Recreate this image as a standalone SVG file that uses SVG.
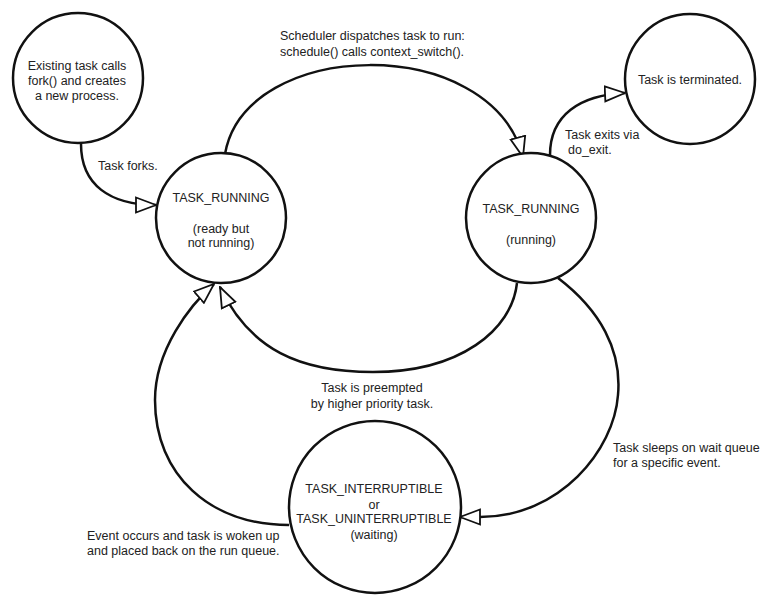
<svg xmlns="http://www.w3.org/2000/svg" width="766" height="599" viewBox="0 0 766 599">
<style>
.node{fill:#fff;stroke:#111;stroke-width:2.5}
.edge{fill:none;stroke:#111;stroke-width:2.5;marker-end:url(#arr)}
text{font-family:"Liberation Sans",Arial,sans-serif;font-size:12.5px;fill:#222}
.c{text-anchor:middle}
</style>
<defs>
<marker id="arr" viewBox="0 0 22 18" refX="21" refY="9" markerWidth="22" markerHeight="18" markerUnits="userSpaceOnUse" orient="auto">
<path d="M1,1.5 L21,9 L1,16.5 Z" fill="#fff" stroke="#111" stroke-width="1.8" stroke-linejoin="miter"/>
</marker>
</defs>
<rect width="766" height="599" fill="#fff"/>
<g id="connectors">
<path class="edge" d="M81,144 C81,185 110,205 156,205"/>
<path class="edge" d="M225,154 C245,38 490,32 523,157"/>
<path class="edge" d="M550,155 C550,115 580,95 625,93"/>
<path class="edge" d="M517,283 C512,330 460,372 373,372 C300,372 250,350 220,287"/>
<path class="edge" d="M558,278 C600,310 622,350 618,395 C614,450 560,517 480,517 L460,517"/>
<path class="edge" d="M289,525 C210,525 155,475 155,400 C155,350 190,305 214,284"/>
</g>
<g id="labels">
<text x="98" y="170">Task forks.</text>
<text x="280" y="40">Scheduler dispatches task to run:</text>
<text x="280" y="56">schedule() calls context_switch().</text>
<text x="565" y="139">Task exits via</text>
<text x="568" y="154">do_exit.</text>
<text class="c" x="372" y="392">Task is preempted</text>
<text class="c" x="372" y="408">by higher priority task.</text>
<text x="613" y="452">Task sleeps on wait queue</text>
<text x="613" y="467">for a specific event.</text>
<text x="87" y="540">Event occurs and task is woken up</text>
<text x="87" y="555">and placed back on the run queue.</text>
</g>
<g id="fork">
<circle class="node" cx="78" cy="78" r="65"/>
<text class="c" x="77" y="70">Existing task calls</text>
<text class="c" x="77" y="85">fork() and creates</text>
<text class="c" x="77" y="100">a new process.</text>
</g>
<g id="ready">
<circle class="node" cx="221" cy="218" r="65"/>
<text class="c" x="221" y="202">TASK_RUNNING</text>
<text class="c" x="221" y="233">(ready but</text>
<text class="c" x="221" y="247">not running)</text>
</g>
<g id="running">
<circle class="node" cx="531" cy="218" r="65"/>
<text class="c" x="531" y="213">TASK_RUNNING</text>
<text class="c" x="531" y="244">(running)</text>
</g>
<g id="terminated">
<circle class="node" cx="690" cy="79" r="65"/>
<text class="c" x="690" y="84">Task is terminated.</text>
</g>
<g id="waiting">
<circle class="node" cx="375" cy="507" r="86"/>
<text class="c" x="374" y="493">TASK_INTERRUPTIBLE</text>
<text class="c" x="374" y="509">or</text>
<text class="c" x="374" y="523">TASK_UNINTERRUPTIBLE</text>
<text class="c" x="374" y="539">(waiting)</text>
</g>
</svg>
